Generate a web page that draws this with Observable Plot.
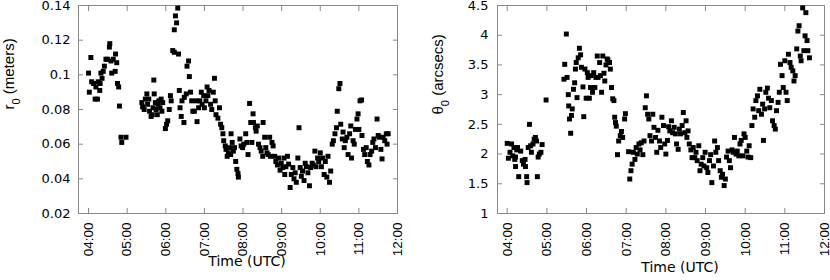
<!DOCTYPE html>
<html><head><meta charset="utf-8">
<script src="https://cdn.jsdelivr.net/npm/d3@7"></script>
<script src="https://cdn.jsdelivr.net/npm/@observablehq/plot@0.6"></script>
<style>
body{margin:0;background:#fff;}
#wrap{display:flex;width:830px;height:280px;overflow:hidden;}
</style></head><body><div id="wrap"></div>
<script>
const hourTicks = [4, 5, 6, 7, 8, 9, 10, 11, 12];
const hourTickLabels = ["04:00", "05:00", "06:00", "07:00", "08:00", "09:00", "10:00", "11:00", "12:00"];
const r0Ticks = [0.02, 0.04, 0.06, 0.08, 0.1, 0.12, 0.14];
const r0TickLabels = ["0.02", "0.04", "0.06", "0.08", "0.1", "0.12", "0.14"];
const theta0Ticks = [1, 1.5, 2, 2.5, 3, 3.5, 4, 4.5];
const theta0TickLabels = ["1", "1.5", "2", "2.5", "3", "3.5", "4", "4.5"];
const xTitle = "Time (UTC)";
const r0TitleParts = ["r", "0", " (meters)"];
const theta0TitleParts = ["θ", "0", " (arcsecs)"];

// r0 (meters) — time in decimal hours UTC
const r0Hours = [
  4.00,4.02,4.06,4.08,4.13,4.17,4.19,4.23,4.25,4.29,
  4.30,4.32,4.35,4.38,4.41,4.45,4.49,4.54,4.55,4.58,
  4.60,4.64,4.69,4.70,4.73,4.75,4.78,4.80,4.84,4.86,
  4.97,
  5.38,5.40,5.44,5.47,5.51,5.53,5.56,5.58,5.62,5.65,
  5.67,5.69,5.70,5.73,5.75,5.78,5.80,5.82,5.85,5.88,
  5.90,5.92,5.99,6.02,6.05,6.09,6.12,6.14,6.18,6.22,
  6.22,6.25,6.28,6.31,6.33,6.35,6.37,6.40,6.42,6.47,
  6.48,6.53,6.55,6.59,6.61,6.64,6.67,6.70,6.74,6.79,
  6.81,6.85,6.88,6.92,6.94,6.98,7.00,7.04,7.07,7.09,
  7.12,7.16,7.19,7.23,7.26,7.28,7.30,7.35,7.39,7.42,
  7.45,
  7.48,7.50,7.54,7.56,7.59,7.62,7.65,7.68,7.69,7.72,
  7.75,7.78,7.81,7.84,7.87,7.88,7.92,7.95,7.99,
  8.02,8.07,8.10,8.13,8.17,8.20,8.23,8.26,8.27,8.32,
  8.34,8.37,8.40,8.44,8.47,8.51,8.52,8.56,8.59,8.62,
  8.65,8.69,8.71,8.75,8.78,8.82,8.85,8.89,8.92,8.96,
  8.99,
  9.03,9.06,9.08,9.11,9.15,9.18,9.22,9.25,9.29,9.32,
  9.35,9.38,9.42,9.45,9.48,9.51,9.54,9.58,9.61,9.64,
  9.68,9.72,9.75,9.79,9.82,9.86,9.89,9.93,9.96,
  10.00,10.03,10.06,10.10,10.13,10.17,10.20,10.24,10.27,10.31,
  10.34,10.38,10.42,10.44,10.48,10.51,10.53,10.57,10.59,10.62,
  10.65,10.69,10.72,10.76,10.79,10.81,10.85,10.88,10.91,10.95,
  10.98,
  11.00,11.03,11.07,11.08,11.12,11.15,11.19,11.22,11.26,11.29,
  11.33,11.36,11.39,11.43,11.47,11.50,11.53,11.57,11.60,11.63,
  11.67,11.71,11.73,11.76
];
const r0Values = [
  0.101,0.090,0.110,0.096,0.095,0.086,0.093,0.086,0.096,0.091,
  0.095,0.101,0.098,0.102,0.105,0.109,0.109,0.116,0.118,0.108,
  0.101,0.109,0.102,0.112,0.107,0.095,0.093,0.082,0.064,0.061,
  0.064,
  0.084,0.0815,0.080,0.086,0.089,0.083,0.086,0.079,0.076,0.077,
  0.081,0.097,0.089,0.084,0.080,0.077,0.083,0.085,0.081,0.086,
  0.079,0.084,0.069,0.0715,0.0735,0.080,0.088,0.085,0.114,0.113,
  0.126,0.134,0.130,0.1385,0.112,0.091,0.081,0.076,0.085,0.0725,
  0.087,0.089,0.105,0.108,0.099,0.090,0.085,0.079,0.079,0.085,
  0.073,0.081,0.085,0.090,0.083,0.088,0.081,0.085,0.093,0.088,
  0.091,0.083,0.080,0.090,0.098,0.085,0.077,0.075,0.081,0.0715,
  0.0695,
  0.066,0.062,0.059,0.057,0.053,0.055,0.058,0.054,0.066,0.061,
  0.056,0.058,0.050,0.0455,0.043,0.041,0.063,0.059,0.058,
  0.060,0.066,0.061,0.054,0.0835,0.0725,0.061,0.0775,0.0725,0.0695,
  0.0675,0.0705,0.060,0.058,0.056,0.053,0.0725,0.064,0.058,0.055,
  0.054,0.064,0.053,0.061,0.059,0.053,0.050,0.048,0.052,0.045,
  0.049,
  0.0465,0.052,0.0425,0.047,0.053,0.0485,0.035,0.0425,0.0465,0.040,
  0.0435,0.038,0.052,0.0695,0.0465,0.0415,0.0445,0.039,0.049,0.047,
  0.0435,0.036,0.0465,0.049,0.048,0.056,0.047,0.052,0.050,
  0.055,0.047,0.052,0.0425,0.050,0.041,0.053,0.038,0.0445,0.060,
  0.062,0.066,0.0695,0.079,0.092,0.095,0.0715,0.063,0.067,0.058,
  0.062,0.064,0.054,0.066,0.0705,0.052,0.062,0.060,0.0685,0.0745,
  0.0775,
  0.0685,0.085,0.0855,0.065,0.057,0.054,0.058,0.050,0.048,0.054,
  0.056,0.061,0.063,0.058,0.0745,0.065,0.064,0.057,0.0515,0.064,
  0.062,0.066,0.060,0.066
];

// theta0 (arcsecs) — time in decimal hours UTC
const theta0Hours = [
  4.00,4.03,4.07,4.11,4.14,4.17,4.19,4.21,4.21,4.24,
  4.26,4.29,4.34,4.38,4.41,4.45,4.46,4.49,4.50,4.53,
  4.56,4.59,4.61,4.65,4.68,4.71,4.74,4.76,4.78,4.81,
  4.85,4.88,4.98,
  5.43,5.45,5.49,5.51,5.54,5.55,5.57,5.60,5.62,5.64,
  5.67,5.70,5.72,5.74,5.76,5.79,5.82,5.85,5.87,5.91,
  5.93,5.96,5.99,6.02,6.04,6.07,6.10,6.12,6.15,6.18,
  6.21,6.24,6.27,6.29,6.33,6.35,6.38,6.41,6.44,6.46,
  6.49,6.52,6.54,6.58,6.60,6.63,6.66,6.69,6.71,6.73,
  6.75,6.78,6.81,6.85,6.88,6.91,6.96,6.98,
  7.06,7.09,7.12,7.15,7.18,7.22,7.25,7.28,7.32,7.35,
  7.38,7.42,7.45,7.48,7.51,7.54,7.57,7.60,7.64,7.67,
  7.70,7.74,7.77,7.80,7.84,7.87,7.90,7.94,7.97,8.00,
  8.04,8.07,8.10,8.14,8.17,8.21,8.24,8.27,8.31,8.34,
  8.37,8.41,8.44,8.48,8.51,8.53,8.56,8.59,8.63,8.66,
  8.69,8.73,8.76,8.79,8.83,8.86,8.89,8.93,8.96,8.99,
  9.03,9.06,9.10,9.13,9.16,9.20,9.23,9.26,9.30,9.33,
  9.37,9.40,9.43,9.47,9.50,9.53,9.57,9.60,9.63,9.67,
  9.70,9.73,9.77,9.80,9.84,9.87,9.90,9.94,9.97,10.00,
  10.04,10.07,10.10,10.14,10.17,10.20,10.24,10.27,10.31,10.34,
  10.37,10.41,10.44,10.46,10.49,10.52,10.56,10.59,10.62,10.66,
  10.69,10.73,10.76,10.79,10.83,10.86,10.89,10.93,10.96,11.00,
  11.03,11.06,11.09,11.13,11.16,11.20,11.23,11.26,11.30,11.33,
  11.36,11.39,11.41,11.45,11.48,11.51,11.53,11.56,11.58,11.62
];
const theta0Values = [
  2.18,1.93,2.03,2.17,1.97,2.11,1.91,1.95,1.79,2.07,
  2.11,1.62,2.05,1.89,1.83,1.91,1.79,1.62,1.52,2.11,
  2.50,2.14,2.03,2.17,2.25,2.28,2.22,1.62,1.95,2.00,
  2.03,2.16,2.91,
  3.26,3.51,4.02,3.29,3.00,2.81,2.59,2.35,2.65,2.76,
  3.09,3.20,3.43,3.54,2.95,3.62,3.78,3.67,3.46,3.13,
  2.63,3.43,2.94,3.37,3.29,2.94,3.12,3.32,3.04,3.37,
  3.12,3.29,3.65,3.29,3.54,3.32,3.04,3.65,3.36,3.23,
  3.50,3.60,3.58,3.54,3.43,3.12,2.93,2.90,2.62,2.53,
  2.47,1.99,2.22,2.31,2.38,2.28,2.59,2.68,
  2.04,1.58,1.72,1.83,2.03,1.91,2.11,2.00,2.17,2.07,
  2.19,1.99,2.22,2.78,2.98,2.67,2.59,2.31,2.22,2.67,
  2.45,2.28,2.03,2.40,2.22,2.11,2.62,2.48,2.17,2.00,
  2.23,2.46,2.39,2.56,2.36,2.45,2.34,2.17,2.08,2.42,
  2.34,2.48,2.70,2.36,2.56,2.28,2.39,2.17,2.07,1.94,
  2.11,1.94,2.03,1.89,2.14,1.72,1.83,1.94,1.80,2.03,
  1.77,1.69,1.89,1.99,1.52,1.80,2.22,2.03,2.11,1.89,
  1.72,1.61,1.66,1.47,1.58,1.95,2.05,1.89,1.77,2.07,
  2.03,2.28,2.00,2.05,1.97,2.17,2.23,1.97,2.34,2.28,
  2.05,1.95,2.14,1.94,2.48,2.76,2.62,2.90,2.98,2.73,
  3.09,2.67,2.84,2.23,2.76,3.04,3.11,2.94,2.78,2.90,
  2.56,2.48,2.42,2.73,2.87,3.04,3.51,3.32,3.12,3.57,
  3.04,2.90,3.68,3.54,3.46,3.40,3.23,3.32,3.77,4.07,
  4.16,3.65,3.57,4.46,3.74,3.99,4.38,3.91,3.74,3.62
];

const NS = "http://www.w3.org/2000/svg";
const fmtFrom = (ticks, labels) => d => labels[ticks.findIndex(t => Math.abs(t - d) < 1e-9)];

function panel({hours, values, yDomain, yTicks, yTickLabels, xMin, marginLeft, marginRight, titleParts, titleDx, titleDy, xTitleDx, xTitleDy, yPad}) {
  const data = hours.map((h, i) => ({h, v: values[i]}));
  const title = titleParts.join("");
  const svg = Plot.plot({
    width: 415, height: 280,
    marginTop: 5, marginBottom: 67, marginLeft, marginRight,
    style: {background: "#fff", color: "#000", fontFamily: "'Liberation Sans', sans-serif"},
    x: {domain: [xMin, 12]},
    y: {domain: yDomain},
    marks: [
      Plot.frame({stroke: "#888"}),
      Plot.axisX(hourTicks, {anchor: "bottom", tickSize: -5, tickPadding: 14, tickRotate: -90,
        textAnchor: "end", lineAnchor: "middle",
        tickFormat: fmtFrom(hourTicks, hourTickLabels), stroke: "#888", fill: "#000",
        label: null, fontSize: 13.5, fontFamily: "Liberation Sans"}),
      Plot.axisX(hourTicks, {anchor: "top", tickSize: -5, stroke: "#888", fill: "none", label: null}),
      Plot.axisY(yTicks, {anchor: "left", tickSize: -5, tickPadding: yPad,
        tickFormat: fmtFrom(yTicks, yTickLabels), stroke: "#888", fill: "#000",
        label: null, fontSize: 13, fontFamily: "DejaVu Sans"}),
      Plot.axisY(yTicks, {anchor: "right", tickSize: -5, stroke: "#888", fill: "none", label: null}),
      Plot.dot(data, {x: "h", y: "v", symbol: "square", r: 2.8, fill: "#000"}),
      Plot.text([title], {text: d => d, frameAnchor: "left", rotate: -90, dx: titleDx, dy: titleDy,
        fontSize: 15, fontFamily: "Liberation Sans", fill: "#000"}),
      Plot.text([xTitle], {text: d => d, frameAnchor: "bottom", dx: xTitleDx, dy: xTitleDy,
        fontSize: 14, fontFamily: "DejaVu Sans", fill: "#000"})
    ]
  });
  svg.querySelectorAll("text").forEach(t => {
    if (t.textContent === title) {
      t.textContent = "";
      titleParts.forEach((p, i) => {
        const s = document.createElementNS(NS, "tspan");
        s.textContent = p;
        if (i === 1) { s.setAttribute("baseline-shift", "sub"); s.setAttribute("font-size", "11"); }
        t.appendChild(s);
      });
    }
  });
  return svg;
}

const wrap = document.getElementById("wrap");
wrap.appendChild(panel({hours: r0Hours, values: r0Values, yDomain: [0.02, 0.14], yTicks: r0Ticks,
  yTickLabels: r0TickLabels, xMin: 3.74, marginLeft: 78, marginRight: 18, titleParts: r0TitleParts,
  titleDx: -69, titleDy: 0, xTitleDx: 9, xTitleDy: 52, yPad: 13}));
wrap.appendChild(panel({hours: theta0Hours, values: theta0Values, yDomain: [1, 4.5], yTicks: theta0Ticks,
  yTickLabels: theta0TickLabels, xMin: 3.755, marginLeft: 82, marginRight: 6, titleParts: theta0TitleParts,
  titleDx: -59, titleDy: 5, xTitleDx: 19, xTitleDy: 58, yPad: 14}));
</script>
</body></html>
